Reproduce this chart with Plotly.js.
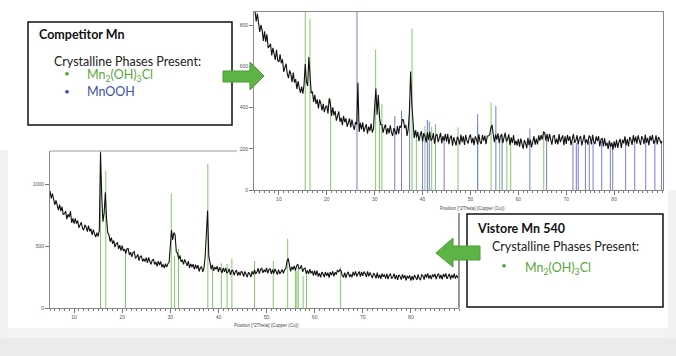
<!DOCTYPE html>
<html>
<head>
<meta charset="utf-8">
<script src="https://cdn.plot.ly/plotly-3.0.1.min.js"></script>
<style>html,body{margin:0;padding:0;background:#fff;}#chart{width:676px;height:356px;}</style>
</head>
<body>
<div id="chart"></div>
<script>
// ---- scan grid (°2Theta) ----
const scanStart = 5;
const scanStep = 0.25;

// ---- Competitor Mn pattern (counts), 5.00 .. 90.00 °2θ ----
const compCounts = [
872,818,856,805,767,801,776,724,770,719,756,692,696,710,653,690,667,631,681,629,
622,658,615,634,574,599,613,563,543,581,562,524,570,522,538,490,528,496,471,502,
468,512,612,525,505,645,540,470,478,428,462,418,440,396,438,420,386,418,378,404,
408,371,445,418,360,401,362,383,337,369,381,331,351,315,360,329,348,307,330,347,
304,342,312,292,330,318,520,282,326,294,328,282,303,320,273,308,287,322,279,298,
405,492,365,462,352,318,318,278,302,318,270,300,275,314,281,262,301,287,268,310,
272,312,302,342,340,300,316,263,295,380,575,420,300,252,289,255,282,237,266,285,
236,276,261,231,280,244,283,239,248,276,225,263,272,232,253,277,226,262,239,273,
234,273,222,253,264,215,256,231,216,258,247,220,269,232,261,219,267,241,225,257,
269,227,253,218,260,246,222,270,234,224,267,239,264,223,262,262,268,300,316,270,
232,270,244,275,228,261,271,228,261,278,236,246,270,218,256,228,266,218,240,216,
248,210,250,218,201,242,228,203,253,217,245,207,243,261,220,249,221,265,240,267,
245,282,278,240,272,234,272,239,220,260,267,225,249,221,271,233,255,265,217,261,
224,268,238,260,218,256,272,230,240,266,222,252,262,216,250,268,228,246,220,264,
257,221,268,234,223,260,237,262,211,246,250,212,252,214,230,200,240,210,230,196,
236,206,244,204,232,248,204,244,226,260,216,247,212,257,244,219,266,232,259,225,
265,235,219,261,249,223,269,229,253,217,263,239,267,225,235,265,221,257,247,227,
238];

// ---- Vistore Mn 540 pattern (counts), 5.00 .. 90.00 °2θ ----
const vistCounts = [
949,889,927,870,837,872,842,793,839,786,821,757,765,785,720,760,738,786,691,726,
685,727,685,709,651,681,695,646,631,674,657,620,668,622,642,592,635,602,575,610,
580,628,1262,905,700,768,938,725,612,592,538,571,521,547,493,522,529,479,509,465,
506,463,478,441,480,482,430,452,414,449,456,405,412,436,384,418,422,377,400,377,
408,365,410,377,354,389,394,353,374,337,380,349,378,331,354,323,359,331,359,368,
480,632,552,612,592,455,445,396,426,374,392,353,394,374,342,380,325,358,332,356,
314,351,320,347,296,328,334,293,324,420,640,790,420,345,314,349,302,332,314,338,
292,330,312,284,326,294,326,282,294,318,268,302,306,266,292,308,262,292,264,297,
290,255,296,265,250,290,277,251,298,272,310,276,292,322,278,313,322,285,311,291,
325,282,311,320,276,310,278,318,286,271,312,276,294,311,282,310,318,380,402,340,
297,334,312,342,304,340,356,318,322,346,294,318,324,278,305,276,315,282,301,263,
303,265,303,255,283,248,291,276,251,292,260,286,246,291,266,298,256,290,271,308,
292,312,300,262,252,286,245,278,293,252,273,248,293,262,297,256,285,296,255,292,
260,295,279,253,297,257,289,259,242,283,270,241,286,243,270,236,279,253,272,238,
276,235,267,276,238,251,279,234,266,229,269,256,230,273,240,267,224,261,240,265,
222,258,227,268,251,228,273,238,229,270,261,230,275,247,280,238,266,234,272,252,
277,235,263,279,239,269,233,275,251,281,237,259,277,233,269,243,279,239,265,247,
258];

// ---- reference patterns ----
// Mn2(OH)3Cl lines on the Competitor chart
const compClPos = [15.5,16.5,20.8,30.2,31.0,31.5,37.8,38.7,40.5,41.9,42.7,47.4,51.5,54.3,56.1,57.6,58.4,65.3];
const compClH   = [900,829,444,682,380,417,784,291,311,306,320,304,311,424,243,259,243,283];
// MnOOH lines on the Competitor chart
const compOohPos = [26.3,34.2,35.6,37.3,40.0,41.0,41.4,44.5,51.5,55.3,56.6,62.4,65.9,71.4,72.1,72.5,74.0,74.8,75.6,77.4,79.2,79.7,82.4,84.3,86.6,88.5,89.9];
const compOohH   = [900,359,385,430,259,340,332,250,369,408,267,299,243,235,228,232,240,236,230,238,226,222,240,236,250,242,238];
// Mn2(OH)3Cl lines on the Vistore chart
const vistClPos = [15.5,16.6,20.7,30.2,30.9,31.7,37.8,38.8,40.6,41.8,42.8,47.5,51.4,54.4,56.0,56.3,56.6,57.6,58.3,65.4];
const vistClH   = [1300,1116,473,927,420,478,1168,320,362,357,400,382,382,562,300,300,330,260,300,332];

// tick labels
const xTickVals = [10,20,30,40,50,60,70,80];
const compYTicks = [0,200,400,600,800];
const vistYTicks = [0,500,1000];
const xTitle = 'Position [°2Theta] (Copper (Cu))';

// ---------------------------------------------------------------
const W = 676, H = 356;
const px = x => x / W;
const py = y => 1 - y / H;
const twoTheta = compCounts.map((_, i) => scanStart + i * scanStep);
const twoTheta2 = vistCounts.map((_, i) => scanStart + i * scanStep);

function sticks(pos, h) {
  const x = [], y = [];
  pos.forEach((p, i) => { x.push(p, p, null); y.push(0, h[i], null); });
  return {x, y};
}
const GREEN = '#80c968', BLUE = '#767ecb';
const s1 = sticks(compClPos, compClH), s2 = sticks(compOohPos, compOohH), s3 = sticks(vistClPos, vistClH);

const traces = [
  {x: s1.x, y: s1.y, xaxis: 'x', yaxis: 'y', mode: 'lines', line: {color: GREEN, width: 1}, hoverinfo: 'skip'},
  {x: s2.x, y: s2.y, xaxis: 'x', yaxis: 'y', mode: 'lines', line: {color: BLUE, width: 1}, hoverinfo: 'skip'},
  {x: twoTheta, y: compCounts, xaxis: 'x', yaxis: 'y', mode: 'lines', line: {color: '#111', width: 1.1}},
  {x: s3.x, y: s3.y, xaxis: 'x2', yaxis: 'y2', mode: 'lines', line: {color: GREEN, width: 1}, hoverinfo: 'skip'},
  {x: twoTheta2, y: vistCounts, xaxis: 'x2', yaxis: 'y2', mode: 'lines', line: {color: '#111', width: 1.1}}
];

const tickFont = {family: 'Liberation Sans, Arial, sans-serif', size: 5, color: '#555'};
function xa(domain, range, anchor, mirror) {
  return {domain, range, anchor, tickmode: 'array', tickvals: xTickVals, ticks: 'outside', ticklen: 4,
    tickcolor: '#777', tickwidth: 1, tickfont: tickFont, showline: true, linecolor: '#888', linewidth: 1,
    mirror: mirror, showgrid: false, zeroline: false,
    minor: {tickmode: 'linear', tick0: 0, dtick: 1, ticks: 'outside', ticklen: 2, tickcolor: '#777', showgrid: false}};
}
function ya(domain, range, anchor, vals, mirror) {
  return {domain, range, anchor, tickmode: 'array', tickvals: vals, ticks: 'outside', ticklen: 4,
    tickcolor: '#777', tickwidth: 1, tickfont: tickFont, showline: true, linecolor: '#888', linewidth: 1,
    mirror: mirror, showgrid: false, zeroline: false};
}

function pathFrom(pts) {
  return 'M' + pts.map(p => px(p[0]).toFixed(5) + ',' + py(p[1]).toFixed(5)).join(' L') + ' Z';
}
const arrowRight = [[223,71],[250,71],[250,62],[264,76],[250,90],[250,82],[223,82]];
const arrowLeft  = [[480,246],[453,246],[453,238],[436,253],[453,267],[453,260],[480,260]];

const shapes = [
  // slide shading
  {type: 'rect', xref: 'paper', yref: 'paper', x0: 0, x1: 1, y0: py(356), y1: py(338), fillcolor: '#ebebeb', line: {width: 0}, layer: 'below'},
  {type: 'rect', xref: 'paper', yref: 'paper', x0: 0, x1: 1, y0: py(338), y1: py(328), fillcolor: '#f3f3f3', line: {width: 0}, layer: 'below'},
  {type: 'rect', xref: 'paper', yref: 'paper', x0: 0, x1: px(8), y0: py(338), y1: py(150), fillcolor: '#f2f2f2', line: {width: 0}, layer: 'below'},
  {type: 'rect', xref: 'paper', yref: 'paper', x0: px(668), x1: 1, y0: py(338), y1: py(190), fillcolor: '#f2f2f2', line: {width: 0}, layer: 'below'},
  // bottom chart partial frame
  {type: 'line', xref: 'paper', yref: 'paper', x0: px(50), x1: px(237), y0: py(151), y1: py(151), line: {color: '#999', width: 1}},
  {type: 'line', xref: 'paper', yref: 'paper', x0: px(459), x1: px(459), y0: py(213), y1: py(308), line: {color: '#999', width: 2}},
  // text boxes
  {type: 'rect', xref: 'paper', yref: 'paper', x0: px(28), x1: px(232), y0: py(125), y1: py(22), fillcolor: '#fff', line: {color: '#111', width: 1.5}},
  {type: 'rect', xref: 'paper', yref: 'paper', x0: px(467), x1: px(663), y0: py(307), y1: py(214), fillcolor: '#fff', line: {color: '#111', width: 1.5}},
  // arrows
  {type: 'path', xref: 'paper', yref: 'paper', path: pathFrom(arrowRight), fillcolor: '#5db343', line: {color: '#4c9c37', width: 1}},
  {type: 'path', xref: 'paper', yref: 'paper', path: pathFrom(arrowLeft), fillcolor: '#5db343', line: {color: '#4c9c37', width: 1}}
];

const boxFont = 'Lato, Calibri, sans-serif';
const TXTGREEN = '#5aa63c', TXTBLUE = '#3f4faa';
function ann(text, x, y, size, color) {
  return {text, x: px(x), y: py(y), xref: 'paper', yref: 'paper', xanchor: 'left', yanchor: 'middle',
    showarrow: false, font: {family: boxFont, size, color}};
}
const annotations = [
  ann('<b>Competitor Mn</b>', 37, 35, 12.5, '#111'),
  ann('Crystalline Phases Present:', 52, 61, 12.5, '#222'),
  ann('•', 62, 73, 10, TXTGREEN),
  ann('Mn<sub>2</sub>(OH)<sub>3</sub>Cl', 85, 76, 12.5, TXTGREEN),
  ann('•', 62, 91, 10, TXTBLUE),
  ann('MnOOH', 85, 91, 12.5, TXTBLUE),
  ann('<b>Vistore Mn 540</b>', 475, 228, 12.5, '#111'),
  ann('Crystalline Phases Present:', 490, 246, 12.5, '#222'),
  ann('•', 499, 265, 10, TXTGREEN),
  ann('Mn<sub>2</sub>(OH)<sub>3</sub>Cl', 523, 268, 12.5, TXTGREEN),
  {text: xTitle, x: px(472), y: py(208), xref: 'paper', yref: 'paper', xanchor: 'center', yanchor: 'middle', showarrow: false, font: {family: 'Liberation Sans, Arial', size: 4.5, color: '#444'}},
  {text: xTitle, x: px(266), y: py(325), xref: 'paper', yref: 'paper', xanchor: 'center', yanchor: 'middle', showarrow: false, font: {family: 'Liberation Sans, Arial', size: 4.5, color: '#444'}}
];

const layout = {
  width: W, height: H, autosize: false,
  margin: {l: 0, r: 0, t: 0, b: 0, pad: 0},
  paper_bgcolor: '#fff', plot_bgcolor: 'rgba(0,0,0,0)',
  showlegend: false,
  xaxis: xa([px(254), px(663)], [4.8, 90.2], 'y', true),
  yaxis: ya([py(190), py(12)], [0, 864], 'x', compYTicks, true),
  xaxis2: xa([px(50), px(459)], [5, 90], 'y2', false),
  yaxis2: ya([py(308), py(151)], [0, 1273], 'x2', vistYTicks, false),
  shapes, annotations
};

Plotly.newPlot('chart', traces, layout, {staticPlot: true, displayModeBar: false});
</script>
</body>
</html>
